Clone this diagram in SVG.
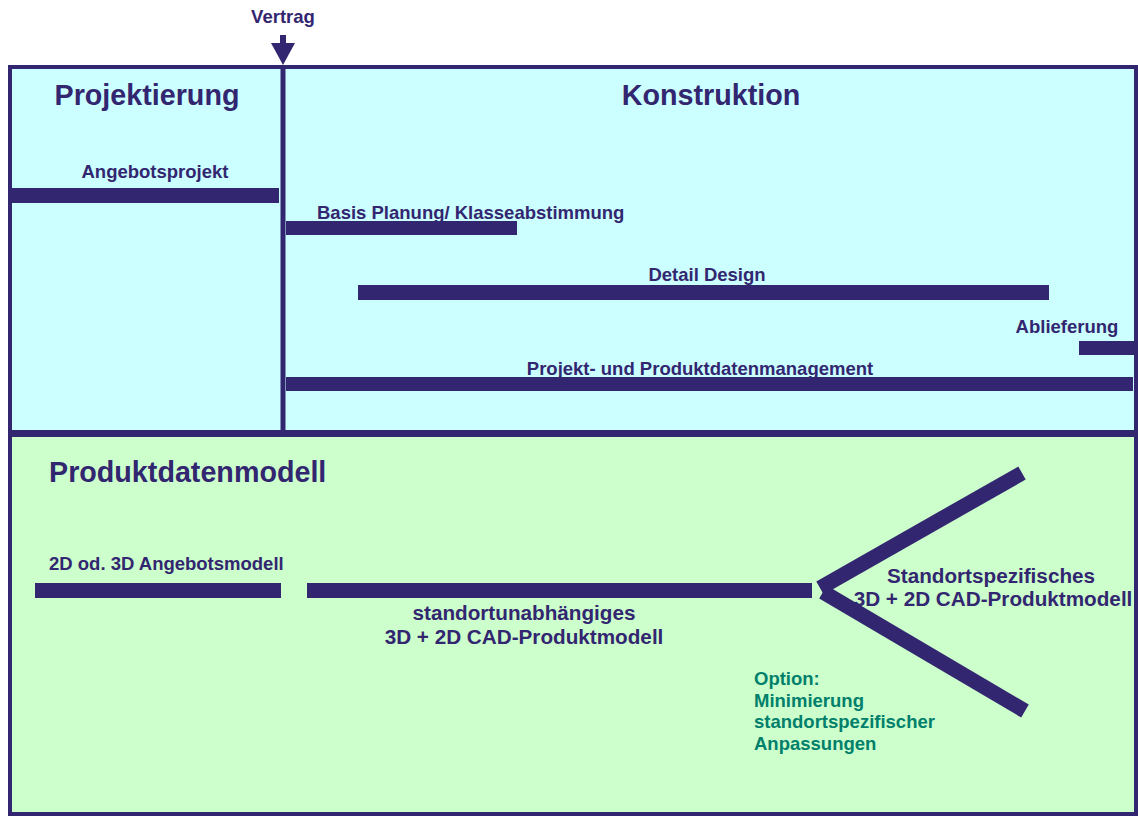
<svg xmlns="http://www.w3.org/2000/svg" width="1138" height="816" viewBox="0 0 1138 816">
  <style>
    .panel-top { fill: #ccffff; stroke: #332670; stroke-width: 4; }
    .panel-bottom { fill: #ccffcc; stroke: #332670; stroke-width: 4; }
    .bar { fill: #332670; }
    .arm { stroke: #332670; stroke-width: 15; stroke-linecap: butt; fill: none; }
    .title { font-family: "Liberation Sans", Arial, sans-serif; font-weight: bold; font-size: 28.7px; fill: #332670; }
    .label { font-family: "Liberation Sans", Arial, sans-serif; font-weight: bold; font-size: 18.5px; fill: #332670; }
    .model { font-family: "Liberation Sans", Arial, sans-serif; font-weight: bold; font-size: 20.7px; fill: #332670; }
    .note { font-family: "Liberation Sans", Arial, sans-serif; font-weight: bold; font-size: 18.5px; fill: #00806b; }
  </style>

  <rect width="1138" height="816" fill="#ffffff"/>

  <!-- Upper phase panel -->
  <g id="phase-panel">
    <rect class="panel-top" x="10" y="67" width="1126" height="365"/>
    <line x1="283" y1="65" x2="283" y2="432" stroke="#332670" stroke-width="5"/>
    <text class="title" x="147" y="105" text-anchor="middle">Projektierung</text>
    <text class="title" x="711" y="105" text-anchor="middle">Konstruktion</text>
  </g>

  <!-- Lower product model panel -->
  <g id="model-panel">
    <rect class="panel-bottom" x="10" y="435" width="1126" height="379"/>
    <text class="title" x="49" y="482">Produktdatenmodell</text>
  </g>

  <!-- Phase bars -->
  <g id="angebotsprojekt">
    <rect class="bar" x="12" y="188" width="267" height="15"/>
    <text class="label" x="155" y="178" text-anchor="middle">Angebotsprojekt</text>
  </g>
  <g id="basis-planung">
    <rect class="bar" x="286" y="221" width="231" height="14"/>
    <text class="label" x="317" y="219">Basis Planung/ Klasseabstimmung</text>
  </g>
  <g id="detail-design">
    <rect class="bar" x="358" y="285" width="691" height="15"/>
    <text class="label" x="707" y="281" text-anchor="middle">Detail Design</text>
  </g>
  <g id="ablieferung">
    <rect class="bar" x="1079" y="341" width="58" height="14"/>
    <text class="label" x="1067" y="333" text-anchor="middle">Ablieferung</text>
  </g>
  <g id="pdm">
    <rect class="bar" x="286" y="377" width="847" height="14"/>
    <text class="label" x="700" y="375" text-anchor="middle">Projekt- und Produktdatenmanagement</text>
  </g>

  <!-- Product model stages -->
  <g id="angebotsmodell">
    <rect class="bar" x="35" y="583" width="246" height="15"/>
    <text class="label" x="49" y="570">2D od. 3D Angebotsmodell</text>
  </g>
  <g id="standortunabhaengig">
    <rect class="bar" x="307" y="583" width="505" height="15"/>
    <text class="model" x="524" y="620" text-anchor="middle">standortunabhängiges</text>
    <text class="model" x="524" y="644" text-anchor="middle">3D + 2D CAD-Produktmodell</text>
  </g>
  <g id="standortspezifisch">
    <text class="model" x="991" y="583" text-anchor="middle">Standortspezifisches</text>
    <text class="model" x="993" y="606" text-anchor="middle">3D + 2D CAD-Produktmodell</text>
  </g>
  <g id="option">
    <text class="note" x="754" y="685">Option:</text>
    <text class="note" x="754" y="707">Minimierung</text>
    <text class="note" x="754" y="728">standortspezifischer</text>
    <text class="note" x="754" y="750">Anpassungen</text>
  </g>

  <!-- Connectors: contract milestone arrow and model branching -->
  <g id="connectors">
    <g id="vertrag">
      <text class="label" x="283" y="23" text-anchor="middle">Vertrag</text>
      <rect class="bar" x="280" y="35" width="6" height="10"/>
      <polygon class="bar" points="271,43 295,43 283,65"/>
    </g>
    <line class="arm" x1="820" y1="588" x2="1022" y2="473"/>
    <line class="arm" x1="823" y1="592" x2="1025" y2="711"/>
  </g>
</svg>
